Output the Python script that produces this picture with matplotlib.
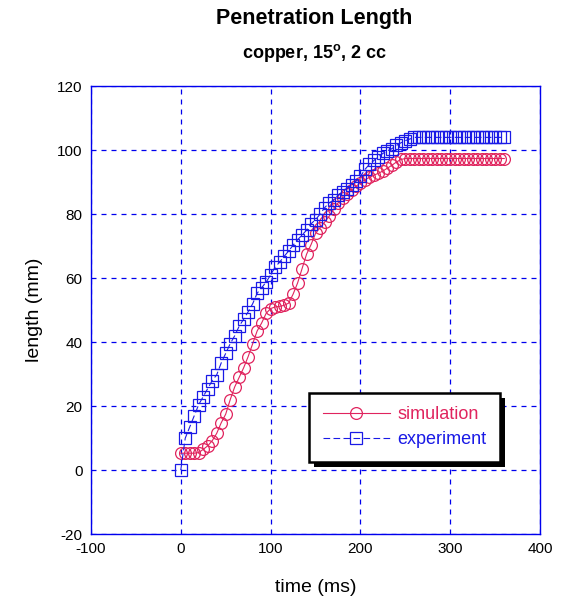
import matplotlib
matplotlib.use('Agg')
matplotlib.rcParams.update({'font.family': ['Liberation Sans', 'DejaVu Sans'],
                            'axes.unicode_minus': False})

from matplotlib import pyplot as plt
from matplotlib.patches import Rectangle

# penetration length vs time, 5 ms steps
sim_time = list(range(0, 365, 5))
sim_length = [5.3, 5.3, 5.3, 5.3, 5.5, 6.5, 7.6, 9.2, 11.5, 14.8,
              17.5, 22.0, 26.0, 29.0, 32.0, 35.5, 39.5, 43.5, 46.0, 49.0,
              50.5, 51.0, 51.2, 51.5, 52.2, 55.0, 58.5, 63.0, 67.5, 70.5,
              74.0, 75.8, 77.5, 79.3, 81.5, 83.5, 85.0, 86.4, 87.5, 88.7,
              89.8, 90.8, 91.5, 92.2, 92.8, 93.5, 94.4, 95.3, 96.3, 97.1,
              97.4, 97.4, 97.4, 97.4, 97.4, 97.4, 97.4, 97.4, 97.4, 97.4,
              97.4, 97.4, 97.4, 97.4, 97.4, 97.4, 97.4, 97.4, 97.4, 97.4,
              97.4, 97.4, 97.4]

exp_time = list(range(0, 365, 5))
exp_length = [0.0, 10.0, 13.5, 17.0, 20.5, 23.0, 25.5, 28.0, 29.8, 33.5,
              36.5, 39.5, 42.0, 45.0, 47.2, 49.5, 52.0, 55.3, 57.0, 58.8,
              61.0, 63.5, 65.0, 66.8, 68.5, 70.3, 72.0, 73.5, 75.0, 77.0,
              78.3, 80.0, 82.0, 83.5, 84.4, 85.9, 87.0, 88.0, 89.0, 90.3,
              91.8, 94.0, 95.6, 96.8, 98.0, 99.0, 99.8, 100.5, 101.5, 102.3,
              103.0, 103.5, 104.0, 104.0, 104.0, 104.0, 104.0, 104.0, 104.0, 104.0,
              104.0, 104.0, 104.0, 104.0, 104.0, 104.0, 104.0, 104.0, 104.0, 104.0,
              104.0, 104.0, 104.0]

sim_color = '#e0245e'
exp_color = '#1a1ae6'

fig = plt.figure(figsize=(5.61, 6.07), dpi=100)
ax = fig.add_axes([0.162, 0.120, 0.801, 0.738])

ax.plot(sim_time, sim_length, color=sim_color, lw=0.8, marker='o', ms=8.5,
        mfc='none', mec=sim_color, mew=0.9, label='simulation')
ax.plot(exp_time, exp_length, color=exp_color, lw=0.8, ls=(0, (6, 3)), marker='s',
        ms=8.0, mfc='none', mec=exp_color, mew=0.9, label='experiment')

ax.set_xlim(-100, 400)
ax.set_ylim(-20, 120)
ax.set_xticks([-100, 0, 100, 200, 300, 400])
ax.set_yticks([-20, 0, 20, 40, 60, 80, 100, 120])
ax.tick_params(length=0, labelsize=11, pad=6)
ax.grid(True, color='#0000ee', ls=(0, (4, 4)), lw=0.9)
for s in ax.spines.values():
    s.set_color('#0000ee')
    s.set_linewidth(1.0)

ax.set_xlabel('time (ms)', fontsize=14, labelpad=16)
ax.set_ylabel('length (mm)', fontsize=14, labelpad=10)

fig.text(0.56, 0.97, 'Penetration Length', ha='center', va='center',
         fontsize=15.5, fontweight='bold')
fig.text(0.56, 0.913, 'copper, 15$^\\mathregular{o}$, 2 cc', ha='center', va='center',
         fontsize=13, fontweight='bold')

leg = ax.legend(loc='lower left', bbox_to_anchor=(0.486, 0.161), borderaxespad=0,
                fontsize=13, fancybox=False, edgecolor='black', framealpha=1,
                handlelength=3.7, handletextpad=0.45,
                borderpad=0.75, labelspacing=0.45)
leg.get_frame().set_linewidth(1.8)
leg.set_zorder(11)
for txt, c in zip(leg.get_texts(), [sim_color, exp_color]):
    txt.set_color(c)

# drop shadow below/right of the legend box
fig.canvas.draw()
bb = leg.get_frame().get_window_extent().transformed(fig.transFigure.inverted())
dx, dy = 5 / 561, 5 / 607
shadow = Rectangle((bb.x0 + dx, bb.y0 - dy), bb.width, bb.height,
                   transform=fig.transFigure, facecolor='black', edgecolor='none',
                   zorder=10, clip_on=False)
ax.add_patch(shadow)

plt.savefig('out.png', dpi=100)
